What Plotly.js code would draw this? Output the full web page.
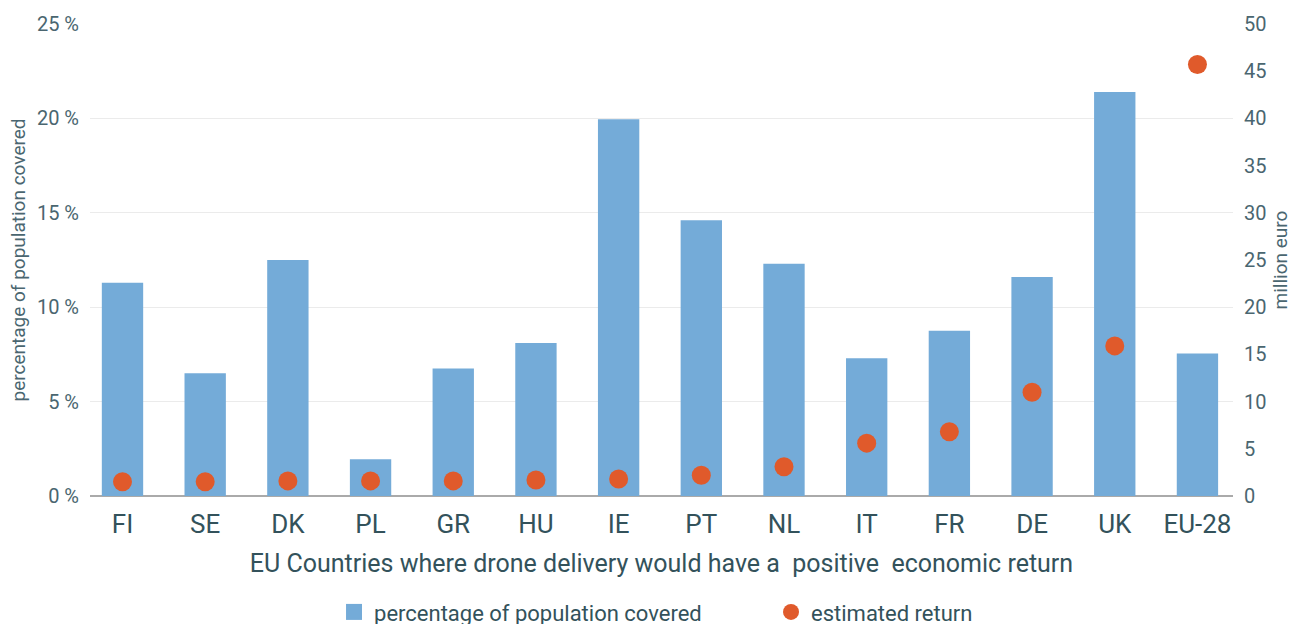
<!DOCTYPE html>
<html><head><meta charset="utf-8">
<script src="https://cdn.plot.ly/plotly-3.0.1.min.js"></script>
<style>html,body{margin:0;padding:0;background:#fff}#chart{width:1308px;height:624px}</style>
</head><body><div id="chart"></div>
<script>
const countries = ["FI","SE","DK","PL","GR","HU","IE","PT","NL","IT","FR","DE","UK","EU-28"];
const populationCovered = [11.3, 6.5, 12.5, 1.95, 6.75, 8.1, 19.95, 14.6, 12.3, 7.3, 8.75, 11.6, 21.4, 7.55];
const estimatedReturn = [1.5, 1.5, 1.6, 1.6, 1.6, 1.7, 1.8, 2.2, 3.1, 5.6, 6.8, 11.0, 15.9, 45.7];
const leftTicks = [0, 5, 10, 15, 20, 25];
const rightTicks = [0, 5, 10, 15, 20, 25, 30, 35, 40, 45, 50];

const FONT = "Roboto, 'DejaVu Sans Condensed', sans-serif";
const TXT = "#33525b";
const TICK = "#4a6670";
const BLUE = "#74abd8";
const ORANGE = "#e05a2b";

const data = [
  {type:"bar", name:"percentage of population covered", x:countries, y:populationCovered,
   marker:{color:BLUE}, yaxis:"y", showlegend:false, legendgroup:"pop"},
  // legend entry for the bars with a larger square swatch
  {type:"scatter", mode:"markers", name:"percentage of population covered", x:[null], y:[null],
   marker:{color:BLUE, size:21, symbol:"square"}, yaxis:"y", legendgroup:"pop", hoverinfo:"skip"},
  {type:"scatter", mode:"markers", name:"estimated return", x:countries, y:estimatedReturn,
   marker:{color:ORANGE, size:19}, yaxis:"y2"}
];

const layout = {
  width:1308, height:624,
  margin:{l:90, r:75, t:24, b:128, autoexpand:false},
  paper_bgcolor:"#fff", plot_bgcolor:"#fff",
  font:{family:FONT, color:TXT},
  bargap:0.5,
  showlegend:true,
  legend:{orientation:"h", x:0.2135, xanchor:"left", y:-0.246, yanchor:"middle",
          font:{size:22, color:TXT}, entrywidth:392, entrywidthmode:"pixels", itemsizing:"trace"},
  xaxis:{type:"category", range:[-0.393, 13.43], showgrid:false, zeroline:false,
         showline:false, ticks:"", ticklabelstandoff:10, tickfont:{size:26, color:TXT},
         automargin:false,
         title:{text:"EU Countries where drone delivery would have a&nbsp; positive&nbsp; economic return",
                font:{size:25, color:TXT}, standoff:16}},
  yaxis:{range:[0,25], tickvals:leftTicks, ticktext:leftTicks.map(v=>v+" %"),
         showgrid:true, gridcolor:"#ebebeb", gridwidth:1,
         zeroline:true, zerolinecolor:"#aaaaaa", zerolinewidth:2, automargin:false,
         showline:false, ticks:"", ticklabelstandoff:10, tickfont:{size:20, color:TICK},
         title:{text:"percentage of population covered", font:{size:19, color:TICK}, standoff:6}},
  yaxis2:{overlaying:"y", side:"right", range:[0,50], tickvals:rightTicks, automargin:false,
          showgrid:false, zeroline:false, showline:false, ticks:"", ticklabelstandoff:10,
          tickfont:{size:20, color:TICK},
          title:{text:"million euro", font:{size:19, color:TICK}, standoff:8}}
};

Plotly.newPlot("chart", data, layout, {displayModeBar:false, staticPlot:true});
</script></body></html>
